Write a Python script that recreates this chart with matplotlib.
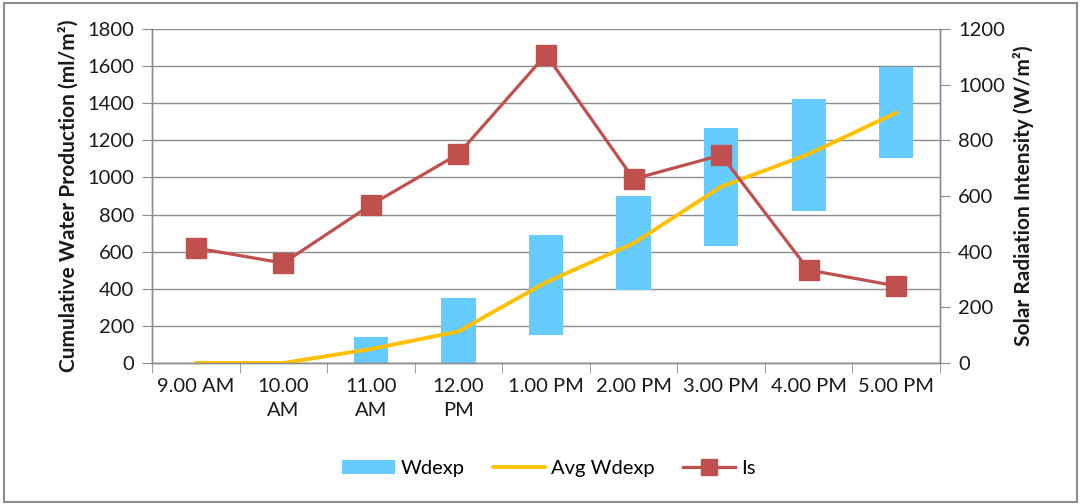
"""Cumulative water production vs solar radiation intensity."""

import matplotlib

matplotlib.use("Agg")
import matplotlib.pyplot as plt
from matplotlib.patches import Rectangle

plt.rcParams["font.family"] = ["Lato", "DejaVu Sans"]

# data
hours = ["9.00 AM", "10.00\nAM", "11.00\nAM", "12.00\nPM", "1.00 PM",
         "2.00 PM", "3.00 PM", "4.00 PM", "5.00 PM"]
wdexp_low = [0, 0, 0, 0, 150, 395, 630, 820, 1105]
wdexp_high = [0, 0, 140, 350, 690, 900, 1265, 1420, 1595]
avg_wdexp = [0, 0, 75, 170, 435, 645, 950, 1126, 1349]
solar_is = [413, 359, 568, 751, 1108, 661, 747, 334, 277]
left_ticks = list(range(0, 1801, 200))
right_ticks = list(range(0, 1201, 200))

GRID = "#8c8c8c"
TEXT = "#1a1a1a"
TICK_FS = 14.5

fig = plt.figure(figsize=(10.81, 5.04), dpi=100)
fig.patches.append(Rectangle((0.004, 0.004), 0.992, 0.99, transform=fig.transFigure,
                             fill=False, edgecolor="#8c8c8c", linewidth=1.5))
ax = fig.add_axes([0.1406, 0.2798, 0.7290, 0.6627])
ax2 = ax.twinx()

x = list(range(len(hours)))
heights = [hi - lo for lo, hi in zip(wdexp_low, wdexp_high)]
bars = ax.bar(x, heights, bottom=wdexp_low, width=0.39, color="#66CCFF", zorder=2)
(avg_line,) = ax.plot(x, avg_wdexp, color="#FFC000", linewidth=2.8, zorder=3,
                      solid_capstyle="round")
(is_line,) = ax2.plot(x, solar_is, color="#C0504D", linewidth=2.3, marker="s",
                      markersize=14, zorder=4)

ax.set_xlim(-0.5, len(hours) - 0.5)
ax.set_ylim(0, 1800)
ax2.set_ylim(0, 1200)
ax.set_yticks(left_ticks)
ax2.set_yticks(right_ticks)
ax.set_xticks(x)
ax.set_xticklabels(hours, fontsize=TICK_FS, color=TEXT, linespacing=1.45)
ax.set_xticks([i - 0.5 for i in range(len(hours) + 1)], minor=True)
ax.tick_params(axis="x", which="major", length=0, pad=11)
ax.tick_params(axis="x", which="minor", length=7, color=GRID)
ax.tick_params(axis="y", labelsize=TICK_FS, labelcolor=TEXT, length=7, color=GRID, pad=6)
ax2.tick_params(axis="y", labelsize=TICK_FS, labelcolor=TEXT, length=7, color=GRID, pad=6)

ax.grid(axis="y", color=GRID, linewidth=1.0, zorder=0)
ax.set_axisbelow(True)
for a in (ax, ax2):
    a.spines["top"].set_visible(False)
    for side in ("left", "right", "bottom"):
        a.spines[side].set_color(GRID)
        a.spines[side].set_linewidth(1.0)

ax.set_ylabel("Cumulative Water Production (ml/m²)", fontsize=15, color=TEXT,
              fontweight="bold", labelpad=6)
ax2.set_ylabel("Solar Radiation Intensity (W/m²)", fontsize=15, color=TEXT,
               fontweight="bold", labelpad=6)

fig.legend([bars, avg_line, is_line], ["Wdexp", "Avg Wdexp", "Is"], loc="center",
           bbox_to_anchor=(0.508, 0.07), ncol=3, frameon=False, fontsize=TICK_FS,
           handlelength=2.6, columnspacing=1.4, markerscale=0.8, handletextpad=0.3)

fig.savefig("out.png", dpi=100)
